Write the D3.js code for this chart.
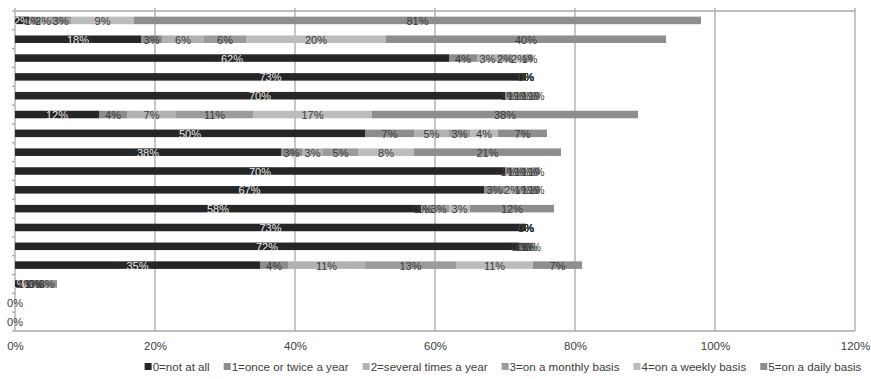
<!DOCTYPE html>
<html>
<head>
<meta charset="utf-8">
<script src="https://cdn.jsdelivr.net/npm/d3@7"></script>
<style>
  html, body { margin: 0; padding: 0; background: #fff; }
  svg { display: block; }
  text { font-family: "Liberation Sans", Arial, sans-serif; }
</style>
</head>
<body>
<svg id="chart" width="871" height="379"></svg>
<script>
// Survey items (one row each, top to bottom)
const items = ["Q1","Q2","Q3","Q4","Q5","Q6","Q7","Q8","Q9","Q10","Q11","Q12","Q13","Q14","Q15","Q16","Q17"];

// Frequency answer categories
const seriesNames = [
  "0=not at all",
  "1=once or twice a year",
  "2=several times a year",
  "3=on a monthly basis",
  "4=on a weekly basis",
  "5=on a daily basis"
];

// Share of respondents (%) per item, one array per answer category
const notAtAll      = [2, 18, 62, 73, 70, 12, 50, 38, 70, 67, 58, 73, 72, 35, 1, 0, 0];
const onceTwiceYear = [1,  3,  4,  0,  1,  4,  7,  3,  1,  3,  0,  0,  0,  4, 1, null, null];
const severalYear   = [2,  6,  3,  0,  1,  7,  5,  3,  1,  2,  1,  0,  1, 11, 1, null, null];
const monthly       = [3,  6,  2,  0,  1, 11,  3,  5,  1,  1,  3,  0,  0, 13, 0, null, null];
const weekly        = [9, 20,  2,  0,  1, 17,  4,  8,  1,  1,  3,  0,  1, 11, 0, null, null];
const daily         = [81, 40, 1,  0,  1, 38,  7, 21,  1,  1, 12,  0,  0,  7, 3, null, null];

const xTicks = [0, 20, 40, 60, 80, 100, 120];

const seriesValues = [notAtAll, onceTwiceYear, severalYear, monthly, weekly, daily];
const colors = ["#262626", "#8c8c8c", "#b1b1b1", "#9b9b9b", "#bcbcbc", "#8e8e8e"];
const lightLabel = "#ececec", darkLabel = "#3a3a3a";

const margin = { left: 15, right: 16, top: 11, bottom: 48 };
const W = 871, H = 379;
const plotR = W - margin.right, plotB = H - margin.bottom;

const svg = d3.select("#chart");

const x = d3.scaleLinear().domain([0, 120]).range([margin.left, plotR]);
const y = d3.scaleBand().domain(items).range([margin.top, plotB]).paddingInner(0.6).paddingOuter(0.3);
const yEdge = d3.scaleBand().domain(items).range([margin.top, plotB]);

const gridColor = "#a9a9a9";

// Vertical gridlines (with short ticks above the top frame line)
svg.append("g").selectAll("line").data(xTicks).join("line")
  .attr("x1", d => x(d)).attr("x2", d => x(d))
  .attr("y1", margin.top - 3).attr("y2", plotB)
  .attr("stroke", gridColor).attr("stroke-width", 1.3);

// Top and bottom frame lines
svg.append("line").attr("x1", margin.left).attr("x2", plotR)
  .attr("y1", margin.top).attr("y2", margin.top)
  .attr("stroke", gridColor).attr("stroke-width", 1.3);
svg.append("line").attr("x1", margin.left).attr("x2", plotR)
  .attr("y1", plotB).attr("y2", plotB)
  .attr("stroke", gridColor).attr("stroke-width", 1.3);

// Category axis on the left: ticks at the row boundaries
const boundaries = items.map(d => yEdge(d)).concat([plotB]);
svg.append("g").selectAll("line").data(boundaries).join("line")
  .attr("x1", margin.left - 3).attr("x2", margin.left)
  .attr("y1", d => d).attr("y2", d => d)
  .attr("stroke", gridColor).attr("stroke-width", 1.3);

// Horizontal axis labels
const xAxis = d3.axisBottom(x).tickValues(xTicks).tickFormat(d => d + "%").tickSize(0).tickPadding(0);
const gx = svg.append("g").attr("transform", `translate(0,${plotB + 11})`).call(xAxis);
gx.select(".domain").remove();
gx.selectAll("text").attr("font-size", 11.5).attr("fill", "#404040")
  .attr("font-family", '"Liberation Sans", Arial, sans-serif');

// Stacked bars
const rows = items.map((item, i) => {
  let acc = 0;
  return seriesValues.map((vals, s) => {
    const v = vals[i];
    const seg = { item, s, v, x0: acc, x1: acc + (v || 0) };
    acc += v || 0;
    return seg;
  });
});
const segments = rows.flat();

svg.append("g").selectAll("rect").data(segments.filter(d => d.v)).join("rect")
  .attr("x", d => x(d.x0))
  .attr("y", d => y(d.item))
  .attr("width", d => x(d.x1) - x(d.x0))
  .attr("height", y.bandwidth())
  .attr("fill", d => colors[d.s]);

// Value labels centred on each segment
svg.append("g").selectAll("text").data(segments.filter(d => d.v !== null)).join("text")
  .attr("x", d => x((d.x0 + d.x1) / 2))
  .attr("y", d => y(d.item) + y.bandwidth() / 2 + 4.5)
  .attr("text-anchor", "middle")
  .attr("font-size", 11)
  .attr("fill", d => (d.s === 0 && d.v > 0) ? lightLabel : darkLabel)
  .text(d => d.v + "%");

// Legend
const legend = svg.append("g").attr("transform", `translate(0,${H - 8})`);
let lx = 0;
const entries = [];
const gap = 14;
seriesNames.forEach((name, s) => {
  const g = legend.append("g");
  g.append("rect").attr("x", 0).attr("y", -8).attr("width", 7).attr("height", 7).attr("fill", colors[s]);
  const t = g.append("text").attr("x", 8).attr("y", 0).attr("font-size", 11.6).attr("fill", "#404040").text(name);
  const w = 8 + t.node().getComputedTextLength();
  entries.push({ g, lx });
  lx += w + gap;
});
const totalW = lx - gap;
const startX = 503 - totalW / 2;
entries.forEach(e => e.g.attr("transform", `translate(${startX + e.lx},0)`));
</script>
</body>
</html>
